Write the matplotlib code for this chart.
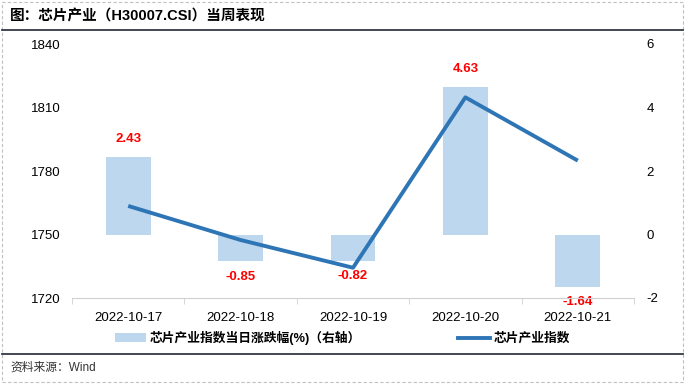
import matplotlib
matplotlib.use("Agg")
import matplotlib.pyplot as plt
from matplotlib.patches import Rectangle, Patch
from matplotlib.lines import Line2D
import numpy as np

plt.rcParams['font.family'] = ['Liberation Sans', 'Noto Sans CJK SC', 'DejaVu Sans']
plt.rcParams['axes.unicode_minus'] = False

dates = ["2022-10-17", "2022-10-18", "2022-10-19", "2022-10-20", "2022-10-21"]
pct_change = [2.43, -0.85, -0.82, 4.63, -1.64]
index_close = [1763.5, 1747.4, 1734.3, 1814.8, 1784.9]

title = "图：芯片产业（H30007.CSI）当周表现"
source = "资料来源：Wind"
bar_label = "芯片产业指数当日涨跌幅(%)（右轴）"
line_label = "芯片产业指数"

W, H = 685, 384
fig = plt.figure(figsize=(W / 100, H / 100), dpi=100)

# outer dashed border
fig.patches.append(Rectangle((2 / W, 2 / H), (W - 4) / W, (H - 4) / H, transform=fig.transFigure,
                             fill=False, edgecolor="#c0c0c0", linestyle=(0, (3, 2)), linewidth=0.8))
fig.text(10 / W, 1 - 16 / H, title, fontsize=10.5, fontweight="bold", va="center", ha="left")
fig.add_artist(Line2D([2 / W, (W - 2) / W], [1 - 30 / H, 1 - 30 / H], color="#333a44", linewidth=1.3,
                      transform=fig.transFigure))
fig.add_artist(Line2D([2 / W, (W - 2) / W], [1 - 354 / H, 1 - 354 / H], color="#333a44", linewidth=1.3,
                      transform=fig.transFigure))
fig.text(10 / W, 1 - 368 / H, source, fontsize=8.5, color="#333333", va="center", ha="left")

left, right, top, bottom = 72, 634, 44, 298
ax = fig.add_axes([left / W, 1 - bottom / H, (right - left) / W, (bottom - top) / H])
ax2 = ax.twinx()

x = np.arange(len(dates))
ax2.bar(x, pct_change, width=0.4, color="#bdd7ee", zorder=1)
ax2.set_ylim(-2, 6)
ax2.set_yticks([-2, 0, 2, 4, 6])

for xi, v in zip(x, pct_change):
    if v >= 0:
        ax2.annotate(f"{v:.2f}", (xi, v), xytext=(0, 9), textcoords="offset points",
                     ha="center", va="bottom", color="red", fontweight="bold", fontsize=9.5)
    else:
        ax2.annotate(f"{v:.2f}", (xi, v), xytext=(0, -7), textcoords="offset points",
                     ha="center", va="top", color="red", fontweight="bold", fontsize=9.5)

ax.set_zorder(ax2.get_zorder() + 1)
ax.patch.set_visible(False)
ax.plot(x, index_close, color="#2e75b6", linewidth=2.8, zorder=3, solid_capstyle="butt")
ax.set_ylim(1720, 1840)
ax.set_yticks([1720, 1750, 1780, 1810, 1840])
ax.set_xlim(-0.5, len(dates) - 0.5)
ax.set_xticks(x)
ax.set_xticklabels(dates)
ax.set_xticks(np.arange(-0.5, len(dates), 1), minor=True)

for a in (ax, ax2):
    for s in ("top", "left", "right"):
        a.spines[s].set_visible(False)
    a.spines["bottom"].set_visible(False)
ax.spines["bottom"].set_visible(True)
ax.spines["bottom"].set_color("#d0d0d0")
ax.tick_params(axis="x", which="major", length=0, pad=10, labelsize=9.5)
ax.tick_params(axis="x", which="minor", length=4, color="#d0d0d0", direction="out")
ax.tick_params(axis="y", length=0, labelsize=9.5, pad=8)
ax2.tick_params(axis="y", length=0, labelsize=9.5, pad=9)

handles = [Patch(facecolor="#bdd7ee", edgecolor="none"),
           Line2D([0], [0], color="#2e75b6", linewidth=2.8)]
fig.legend(handles, [bar_label, line_label], loc="center", bbox_to_anchor=(0.5, 1 - 338 / H),
           ncol=2, frameon=False, columnspacing=7.6, handlelength=2.45,
           handletextpad=0.3, prop={"weight": "bold", "size": 9.2})

fig.savefig("out.png", dpi=100)
